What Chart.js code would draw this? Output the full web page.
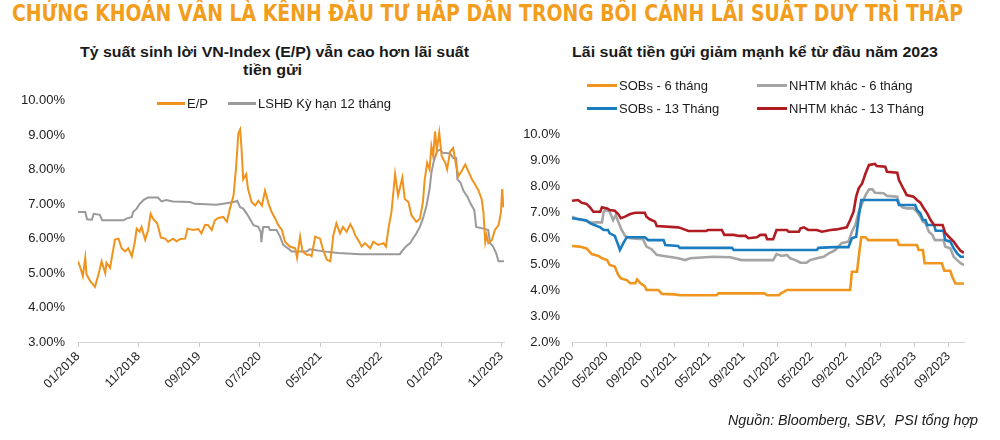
<!DOCTYPE html>
<html lang="vi">
<head>
<meta charset="utf-8">
<script src="https://cdn.jsdelivr.net/npm/chart.js@4.4.1/dist/chart.umd.min.js"></script>
<style>
  html, body { margin: 0; padding: 0; background: #fff; }
  body { width: 1000px; height: 440px; position: relative; overflow: hidden;
         font-family: "Liberation Sans", Arial, sans-serif; color: #1a1a1a; }
  #title { position: absolute; left: 12px; top: 2px; white-space: nowrap; line-height: 23px;
           font-family: "Liberation Sans Narrow", "Arial Narrow", "DejaVu Sans Condensed", sans-serif;
           font-weight: bold; font-size: 23px; color: #F39D1C; transform-origin: left top; }
  .sub { position: absolute; font-weight: bold; font-size: 14.5px; line-height: 18px; white-space: nowrap;
         transform-origin: center top; }
  .legend { position: absolute; font-size: 13px; white-space: nowrap; }
  .item { position: absolute; display: flex; align-items: center; height: 16px; }
  .item i { display: inline-block; height: 3px; margin-right: 2px; }
  canvas { position: absolute; }
  #source { position: absolute; left: 728px; top: 412px; font-size: 14.3px; font-style: italic; white-space: pre; }
</style>
</head>
<body>
<div id="title">CHỨNG KHOÁN VẪN LÀ KÊNH ĐẦU TƯ HẤP DẪN TRONG BỐI CẢNH LÃI SUẤT DUY TRÌ THẤP</div>

<div class="sub" data-center="274" data-width="389" style="top:43px;">Tỷ suất sinh lời VN-Index (E/P) vẫn cao hơn lãi suất</div>
<div class="sub" data-center="273" data-width="59" style="top:61px;">tiền gửi</div>
<div class="sub" data-center="755" data-width="366" style="top:43px;">Lãi suất tiền gửi giảm mạnh kể từ đầu năm 2023</div>

<canvas id="left" width="515" height="360" style="left:0; top:80px;"></canvas>
<canvas id="right" width="500" height="360" style="left:500px; top:80px;"></canvas>

<div class="legend">
  <div class="item" style="left:157px; top:95px;"><i style="width:28px; background:#F0931E"></i>E/P</div>
  <div class="item" style="left:228px; top:95px;"><i style="width:28px; background:#9a9a9a"></i>LSHĐ Kỳ hạn 12 tháng</div>
  <div class="item" style="left:587px; top:77px;"><i style="width:30px; background:#F0961E"></i>SOBs - 6 tháng</div>
  <div class="item" style="left:757px; top:77px;"><i style="width:30px; background:#A5A5A5"></i>NHTM khác - 6 tháng</div>
  <div class="item" style="left:587px; top:100px;"><i style="width:30px; background:#1A7DC0"></i>SOBs - 13 Tháng</div>
  <div class="item" style="left:757px; top:100px;"><i style="width:30px; background:#B01C22"></i>NHTM khác - 13 Tháng</div>
</div>

<div id="source">Nguồn: Bloomberg, SBV,  PSI tổng hợp</div>

<script>
// ---- Biểu đồ trái: tháng tính từ 01/2018 ----
const leftTickMonths = [0, 10, 20, 30, 40, 50, 60, 70];
const leftTickLabels = ["01/2018", "11/2018", "09/2019", "07/2020", "05/2021", "03/2022", "01/2023", "11/2023"];

const epMonths = [0, 0.4, 0.8, 1.2, 1.4, 2.0, 2.8, 3.4, 3.9, 4.5, 4.7, 5.3, 6.1, 6.7, 7.2, 7.8, 8.3, 8.9, 9.4, 9.7,
  10.2, 10.5, 11.1, 11.6, 12.0, 12.4, 13.1, 13.7, 14.4, 14.9, 15.7, 16.3, 16.9, 17.7, 18.1, 19.0, 19.9, 20.4, 21.0, 21.5,
  22.1, 22.6, 23.2, 24.0, 24.6, 25.1, 25.7, 26.1, 26.5, 26.8, 27.0, 27.3, 27.8, 28.1, 28.7, 29.3, 29.8, 30.4, 30.9, 31.5,
  32.0, 32.6, 33.1, 33.7, 34.2, 35.0, 35.9, 36.2, 36.7, 37.1, 37.8, 38.3, 38.6, 39.2, 40.0, 40.5, 41.1, 41.7, 42.2, 42.7,
  43.3, 43.8, 44.4, 45.0, 45.5, 45.8, 46.3, 46.9, 47.4, 48.3, 48.8, 49.6, 50.5, 50.9, 51.3, 51.8, 52.4, 52.9, 53.6, 54.0,
  54.6, 55.1, 55.9, 56.5, 57.0, 57.3, 57.7, 58.1, 58.4, 58.7, 59.0, 59.3, 59.7, 60.1, 60.7, 61.0, 61.5, 62.0, 62.5, 62.9,
  63.4, 64.0, 64.5, 65.1, 65.6, 66.2, 66.7, 67.0, 67.3, 67.5, 67.8, 68.4, 68.9, 69.5, 69.9, 70.1, 70.3];
const epValues = [5.34, 5.15, 4.91, 5.44, 4.97, 4.77, 4.60, 4.97, 5.34, 5.00, 5.30, 5.15, 5.97, 6.00, 5.72, 5.63, 5.72, 5.49, 5.91, 6.29,
  6.20, 6.34, 5.97, 6.26, 6.72, 6.58, 6.44, 6.03, 6.00, 5.91, 6.00, 5.92, 5.99, 6.00, 6.29, 6.25, 6.28, 6.15, 6.40, 6.39,
  6.25, 6.53, 6.60, 6.63, 6.49, 6.87, 7.25, 8.01, 9.06, 9.17, 8.68, 7.72, 7.87, 7.44, 7.06, 6.96, 7.10, 6.96, 7.39, 7.01,
  6.77, 6.58, 6.39, 6.25, 5.91, 5.77, 5.72, 5.44, 6.06, 5.63, 5.53, 5.53, 5.49, 6.06, 6.00, 5.68, 5.39, 5.34, 6.10, 6.44,
  6.15, 6.34, 6.20, 6.42, 6.25, 6.10, 5.96, 5.77, 5.87, 5.72, 5.91, 5.82, 5.87, 5.77, 6.29, 6.77, 7.87, 7.25, 7.77, 7.15,
  7.06, 6.68, 6.49, 6.58, 7.06, 7.72, 8.20, 8.01, 8.68, 8.39, 9.11, 8.58, 9.08, 8.39, 8.20, 8.01, 8.53, 8.63, 8.10, 7.82,
  7.96, 8.15, 7.96, 7.72, 7.58, 7.39, 7.15, 6.77, 5.91, 6.10, 5.87, 5.96, 6.25, 6.39, 6.77, 7.44, 6.91];

const lshdMonths = [0, 1.2, 1.5, 2.3, 2.6, 3.6, 4.0, 7.5, 8.0, 8.9, 9.1, 9.7, 10.2, 10.9, 11.6, 13.2, 13.8, 14.6, 15.7, 18.5,
  19.3, 22.9, 24.0, 25.7, 26.3, 26.8, 27.3, 27.9, 28.4, 29.0, 29.8, 30.2, 30.3, 30.6, 31.5, 31.7, 32.8, 33.4, 33.9, 35.0,
  35.3, 37.8, 38.3, 38.9, 40.5, 43.0, 46.6, 53.2, 53.5, 54.2, 54.9, 55.4, 55.9, 56.5, 57.0, 57.6, 58.1, 58.4, 58.8, 59.3,
  59.8, 60.3, 61.5, 62.0, 62.5, 62.7, 63.2, 63.7, 64.4, 64.9, 65.5, 65.8, 67.0, 67.8, 68.1, 68.6, 69.1, 69.5, 70.4];
const lshdValues = [6.77, 6.77, 6.56, 6.55, 6.72, 6.69, 6.53, 6.53, 6.58, 6.63, 6.77, 6.87, 7.01, 7.13, 7.19, 7.19, 7.08, 7.12, 7.08, 7.06,
  7.01, 6.98, 7.01, 7.06, 7.10, 6.91, 6.87, 6.72, 6.58, 6.39, 6.34, 6.20, 5.90, 6.34, 6.34, 6.25, 6.25, 6.06, 5.82, 5.68,
  5.63, 5.63, 5.69, 5.68, 5.63, 5.58, 5.55, 5.55, 5.63, 5.77, 5.87, 6.01, 6.15, 6.34, 6.58, 6.96, 7.44, 7.91, 8.25, 8.53,
  8.58, 8.49, 8.47, 8.34, 8.34, 7.72, 7.63, 7.39, 7.20, 7.01, 6.82, 6.34, 6.29, 6.25, 5.87, 5.77, 5.58, 5.34, 5.34];

// ---- Biểu đồ phải: tháng tính từ 01/2020 ----
const rightTickMonths = [0, 4, 8, 12, 16, 20, 24, 28, 32, 36, 40, 44];
const rightTickLabels = ["01/2020", "05/2020", "09/2020", "01/2021", "05/2021", "09/2021", "01/2022", "05/2022",
  "09/2022", "01/2023", "05/2023", "09/2023"];

const sob6Months = [0, 0.9, 1.7, 2.3, 3.1, 3.5, 4.1, 4.4, 5.0, 5.4, 5.7, 6.4, 6.8, 7.4, 7.6, 8.0, 8.5, 8.7, 10.1, 10.5,
  12.0, 12.6, 16.9, 17.1, 22.5, 22.8, 24.2, 24.4, 24.7, 25.1, 32.5, 32.7, 33.3, 33.6, 33.8, 34.3, 34.6, 38.0, 38.2, 40.3,
  40.5, 41.0, 41.2, 43.2, 43.5, 44.2, 44.4, 44.8, 45.8];
const sob6Values = [5.69, 5.67, 5.60, 5.38, 5.31, 5.22, 5.15, 4.96, 4.90, 4.58, 4.45, 4.38, 4.26, 4.26, 4.41, 4.26, 4.15, 4.00, 4.00, 3.85,
  3.83, 3.80, 3.80, 3.87, 3.87, 3.80, 3.80, 3.87, 3.92, 4.00, 4.00, 4.70, 4.70, 5.54, 6.03, 6.03, 5.92, 5.92, 5.73, 5.73,
  5.54, 5.54, 5.03, 5.03, 4.74, 4.74, 4.53, 4.25, 4.25];

const nhtm6Months = [0, 0.7, 1.5, 2.3, 2.9, 3.5, 3.7, 3.9, 4.4, 4.8, 5.1, 5.4, 5.8, 6.2, 6.8, 8.3, 8.7, 9.3, 9.9, 10.7,
  11.7, 12.4, 13.2, 13.8, 16.5, 18.5, 19.8, 23.5, 23.9, 24.5, 25.1, 25.5, 26.1, 26.7, 27.4, 27.8, 28.6, 29.4, 30.0, 30.4,
  30.8, 31.5, 32.3, 32.7, 33.1, 33.5, 33.9, 34.3, 34.7, 35.1, 35.4, 36.4, 36.8, 38.0, 38.2, 38.6, 39.1, 39.9, 40.3, 40.7,
  41.0, 41.3, 41.7, 42.1, 42.4, 43.4, 43.6, 44.2, 44.6, 45.0, 45.4, 45.8];
const nhtm6Values = [6.82, 6.72, 6.67, 6.59, 6.60, 6.60, 7.01, 7.08, 7.01, 6.69, 6.88, 6.63, 6.31, 6.08, 5.99, 5.95, 5.67, 5.57, 5.35, 5.31,
  5.26, 5.22, 5.15, 5.22, 5.28, 5.26, 5.15, 5.15, 5.38, 5.31, 5.35, 5.22, 5.15, 5.05, 5.05, 5.15, 5.22, 5.28, 5.41, 5.47,
  5.55, 5.80, 5.86, 6.24, 6.50, 7.01, 7.33, 7.65, 7.87, 7.87, 7.74, 7.72, 7.62, 7.59, 7.33, 7.18, 7.14, 7.14, 7.01, 6.82,
  6.63, 6.57, 6.24, 6.12, 5.92, 5.92, 5.67, 5.60, 5.28, 5.15, 5.03, 4.96];

const sob13Months = [0, 0.9, 1.7, 2.1, 2.9, 3.3, 3.7, 4.2, 4.4, 5.0, 5.4, 5.6, 6.0, 6.4, 8.5, 8.9, 10.7, 10.9, 12.4, 12.6,
  18.7, 18.9, 28.6, 28.8, 30.6, 32.3, 32.7, 33.2, 33.5, 33.8, 38.0, 38.2, 40.1, 40.3, 40.7, 41.0, 41.3, 41.5, 42.3, 42.5,
  43.4, 43.6, 44.2, 44.6, 45.0, 45.4, 45.8];
const sob13Values = [6.76, 6.72, 6.67, 6.57, 6.46, 6.41, 6.31, 6.31, 6.18, 6.08, 5.73, 5.54, 5.80, 6.03, 6.03, 5.92, 5.92, 5.73, 5.69, 5.62,
  5.62, 5.54, 5.54, 5.62, 5.65, 5.65, 5.99, 6.05, 6.82, 7.46, 7.46, 7.27, 7.27, 7.08, 6.95, 6.69, 6.69, 6.50, 6.50, 6.28,
  6.28, 5.92, 5.86, 5.60, 5.41, 5.28, 5.28];

const nhtm13Months = [0, 0.7, 1.1, 1.7, 2.1, 2.5, 3.3, 3.5, 4.1, 4.4, 5.0, 5.4, 5.7, 6.2, 6.8, 7.4, 8.5, 8.7, 9.1, 9.7,
  9.9, 12.4, 12.8, 13.6, 15.7, 15.9, 17.5, 17.8, 18.9, 19.5, 20.3, 20.6, 21.6, 22.0, 22.6, 22.8, 23.5, 23.9, 25.1, 25.3,
  26.5, 26.7, 27.1, 27.6, 28.6, 29.2, 30.2, 30.9, 32.1, 32.5, 32.9, 33.2, 33.5, 33.9, 34.3, 34.7, 35.4, 35.6, 36.6, 36.8,
  38.0, 38.2, 38.6, 38.9, 39.1, 39.9, 40.3, 40.7, 41.1, 41.5, 41.9, 42.3, 43.3, 43.6, 44.2, 44.6, 45.0, 45.4, 45.8];
const nhtm13Values = [7.43, 7.46, 7.36, 7.31, 7.18, 7.01, 7.01, 7.18, 7.14, 7.08, 7.05, 6.92, 6.76, 6.82, 6.92, 6.97, 6.97, 6.82, 6.72, 6.63,
  6.46, 6.41, 6.37, 6.27, 6.27, 6.31, 6.31, 6.12, 6.12, 6.08, 6.08, 5.99, 6.03, 6.12, 6.12, 5.95, 5.95, 6.31, 6.31, 6.24,
  6.24, 6.37, 6.41, 6.31, 6.31, 6.24, 6.31, 6.33, 6.41, 6.69, 7.01, 7.59, 7.91, 8.10, 8.49, 8.81, 8.85, 8.77, 8.74, 8.55,
  8.51, 8.23, 7.97, 7.78, 7.65, 7.59, 7.46, 7.36, 7.14, 6.95, 6.69, 6.50, 6.50, 6.20, 5.99, 5.86, 5.67, 5.51, 5.43];

// ---- dựng biểu đồ ----
Chart.defaults.font.family = "'Liberation Sans', Arial, sans-serif";
Chart.defaults.color = "#222";

const pts = (xs, ys) => xs.map((x, i) => ({ x, y: ys[i] }));

function lineSet(label, xs, ys, color, width) {
  return {
    label, data: pts(xs, ys), borderColor: color, backgroundColor: color,
    borderWidth: width, pointRadius: 0, tension: 0, fill: false
  };
}

function xScale(max, months, labels) {
  return {
    type: "linear", min: 0, max,
    afterBuildTicks: (s) => { s.ticks = months.map((v) => ({ value: v })); },
    afterFit: (s) => { s.height = 98; },
    ticks: {
      autoSkip: false, minRotation: 45, maxRotation: 45, padding: 2,
      font: { size: 12.5 }, color: "#222",
      callback: (v) => labels[months.indexOf(v)] ?? ""
    },
    grid: { display: true, drawOnChartArea: false, drawTicks: true, tickLength: 5, color: "#c8c8c8" },
    border: { display: true, color: "#d4d4d4", width: 1 }
  };
}

function yScale(min, max, digits, width, pad) {
  return {
    min, max,
    afterBuildTicks: (s) => {
      const t = [];
      for (let v = min; v <= max; v++) t.push({ value: v });
      s.ticks = t;
    },
    afterFit: (s) => { s.width = width; },
    ticks: { padding: pad, font: { size: 13 }, color: "#222", callback: (v) => v.toFixed(digits) + "%" },
    grid: { display: false, drawTicks: false },
    border: { display: false }
  };
}

const common = {
  responsive: false,
  animation: false,
  devicePixelRatio: 1,
  plugins: { legend: { display: false }, tooltip: { enabled: false } }
};

new Chart(document.getElementById("left"), {
  type: "line",
  data: {
    datasets: [
      lineSet("E/P", epMonths, epValues, "#F0931E", 2),
      lineSet("LSHĐ Kỳ hạn 12 tháng", lshdMonths, lshdValues, "#9a9a9a", 2)
    ]
  },
  options: {
    ...common,
    layout: { padding: { top: 17, right: 11, left: 0, bottom: 0 } },
    scales: {
      x: xScale(70.4, leftTickMonths, leftTickLabels),
      y: yScale(3, 10, 2, 78, 13)
    }
  }
});

new Chart(document.getElementById("right"), {
  type: "line",
  data: {
    datasets: [
      lineSet("NHTM khác - 13 Tháng", nhtm13Months, nhtm13Values, "#B01C22", 2.6),
      lineSet("SOBs - 13 Tháng", sob13Months, sob13Values, "#1A7DC0", 2.6),
      lineSet("NHTM khác - 6 tháng", nhtm6Months, nhtm6Values, "#A5A5A5", 2.6),
      lineSet("SOBs - 6 tháng", sob6Months, sob6Values, "#F0961E", 2.6)
    ]
  },
  options: {
    ...common,
    layout: { padding: { top: 54, right: 36, left: 0, bottom: 0 } },
    scales: {
      x: xScale(45.8, rightTickMonths, rightTickLabels),
      y: yScale(2, 10, 1, 72, 12)
    }
  }
});

// tiêu đề: kéo giãn cho đúng bề rộng của bản gốc
const title = document.getElementById("title");
const tw = title.getBoundingClientRect().width;
title.style.transform = "scaleX(" + (951 / tw) + ")";

// tiêu đề phụ: đặt giữa và giãn theo bề rộng đo trên ảnh gốc
document.querySelectorAll(".sub").forEach((el) => {
  const w = el.getBoundingClientRect().width;
  const c = Number(el.dataset.center), target = Number(el.dataset.width);
  el.style.left = (c - w / 2) + "px";
  el.style.transform = "scaleX(" + (target / w) + ")";
});
</script>
</body>
</html>
